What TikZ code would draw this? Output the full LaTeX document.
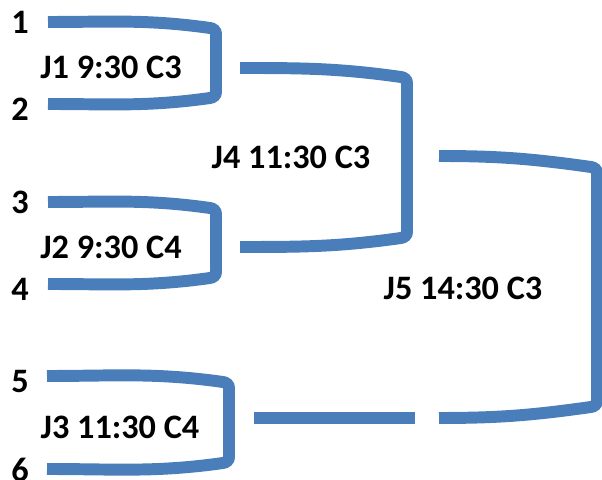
\documentclass[tikz,border=0pt]{standalone}
\usepackage{fontspec}
\setmainfont{Carlito}
\usetikzlibrary{calc,positioning}
\definecolor{bracketblue}{HTML}{4A7EBB}
\tikzset{bracketline/.style={draw=bracketblue, line width=6.8pt},
  lab/.style={font=\fontsize{19.5}{23}\selectfont\bfseries, inner sep=0pt}}
\def\bracket(#1,#2,#3,#4){\path[bracketline] (#1) to[out=0,in=172] ($(#1 -| #3)+(-6,-#4)$)
to[out=-8,in=90] ($(#1 -| #3)+(0,-#4-6)$)
-- ($(#2 -| #3)+(0,#4+6)$)
to[out=-90,in=8] ($(#2 -| #3)+(-6,#4)$)
to[out=188,in=0] (#2);}

\begin{document}
\begin{tikzpicture}[x=0.02cm,y=0.02cm]
\useasboundingbox (0,0) rectangle (602,480);
\node[lab] (s1) at (20,458) {1};
\node[lab] (s2) at (20,371) {2};
\node[lab] (s3) at (20,278) {3};
\node[lab] (s4) at (20,191) {4};
\node[lab] (s5) at (20,98) {5};
\node[lab] (s6) at (20,10) {6};
\node[lab] (j1) at (111,413) {J1 9:30 C3};
\node[lab] (j2) at (111,233) {J2 9:30 C4};
\node[lab] (j3) at (120,53) {J3 11:30 C4};
\node[lab] (j4) at (291,323) {J4 11:30 C3};
\node[lab] (j5) at (463,192) {J5 14:30 C3};
\coordinate (a1) at (48,458);
\coordinate (b1) at (48,376);
\coordinate (v1) at (216,417);
\coordinate (a2) at (48,278);
\coordinate (b2) at (48,196);
\coordinate (v2) at (216,237);
\coordinate (a3) at (47,104);
\coordinate (b3) at (47,11);
\coordinate (v3) at (229,57);
\coordinate (a4) at (240,412);
\coordinate (b4) at (240,233);
\coordinate (v4) at (407,322);
\coordinate (a5) at (439,324);
\coordinate (b5) at (439,62);
\coordinate (v5) at (597,193);
\coordinate (o3) at (254,62);
\coordinate (e3) at (415,62);
\bracket(a1,b1,v1,6)
\bracket(a2,b2,v2,6)
\bracket(a3,b3,v3,6)
\bracket(a4,b4,v4,9)
\bracket(a5,b5,v5,11)
\path[bracketline] (o3)--(e3);
\end{tikzpicture}
\end{document}
